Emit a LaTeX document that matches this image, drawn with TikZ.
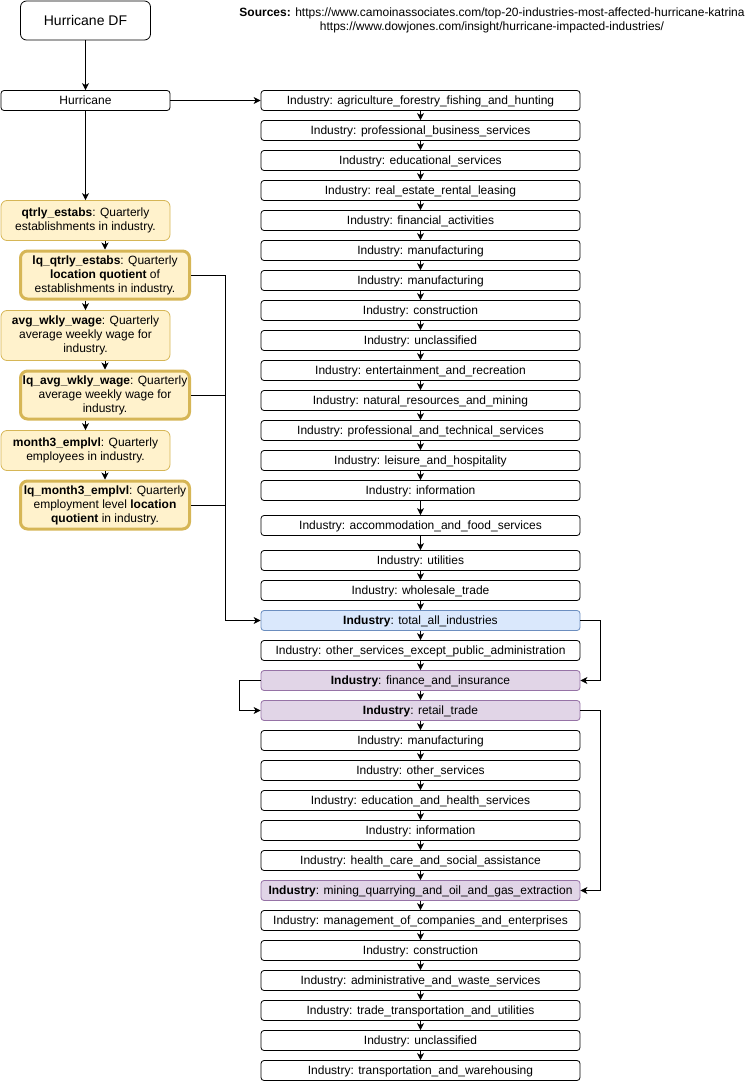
\documentclass[tikz,border=0pt]{standalone}
\usepackage{fontspec}
\setmainfont{Liberation Sans}
\usetikzlibrary{arrows.meta}
\definecolor{ylwfill}{HTML}{FFF2CC}
\definecolor{ylwline}{HTML}{D6B656}
\definecolor{bluefill}{HTML}{DAE8FC}
\definecolor{blueline}{HTML}{6C8EBF}
\definecolor{purpfill}{HTML}{E1D5E7}
\definecolor{purpline}{HTML}{9673A6}
\tikzset{
  every node/.style={font=\fontsize{12}{14}\selectfont, inner sep=0pt},
  arr/.style={-{Stealth[length=7pt,width=7pt,inset=2pt]}, line width=0.8pt},
  ind/.style={draw, rounded corners=3pt, minimum width=319pt, minimum height=20pt, line width=0.8pt,
              text height=8.6pt, text depth=0pt},
  indblue/.style={ind, fill=bluefill, draw=blueline},
  indpurp/.style={ind, fill=purpfill, draw=purpline},
  var/.style={draw=ylwline, fill=ylwfill, rounded corners=6pt, minimum width=169pt, align=center, line width=0.8pt},
  lqvar/.style={var, line width=3pt, rounded corners=7pt}
}
\begin{document}
\begin{tikzpicture}[x=1pt, y=-1pt]
            \useasboundingbox (0,0) rectangle (751,1081);
            % 数据来源
            \node[draw, rounded corners=6pt, minimum width=130pt, minimum height=39pt, line width=0.8pt,
                  font=\fontsize{14}{16}\selectfont, text height=10pt, text depth=0pt] (df) at (85.5,20.5) {Hurricane DF};
            \node[align=center] (src) at (492,20) {\textbf{Sources:} https://www.camoinassociates.com/top-20-industries-most-affected-hurricane-katrina\\https://www.dowjones.com/insight/hurricane-impacted-industries/};
            \node[draw, rounded corners=3pt, minimum width=169pt, minimum height=20pt, line width=0.8pt,
                  text height=8.6pt, text depth=0pt] (hur) at (85.5,100.5) {Hurricane};

            % 变量
            \node[var, minimum height=40pt] (q1) at (85.5,220.5) {\textbf{qtrly\_estabs}: Quarterly\\establishments in industry.};
            \node[lqvar, minimum height=48pt] (lq1) at (105,275) {\textbf{lq\_qtrly\_estabs}: Quarterly\\\textbf{location quotient} of\\establishments in industry.};
            \node[var, minimum height=50pt] (q2) at (85.5,335.5) {\textbf{avg\_wkly\_wage}: Quarterly\\average weekly wage for\\industry.};
            \node[lqvar, minimum height=48pt] (lq2) at (105,395) {\textbf{lq\_avg\_wkly\_wage}: Quarterly\\average weekly wage for\\industry.};
            \node[var, minimum height=40pt] (q3) at (85.5,450.5) {\textbf{month3\_emplvl}: Quarterly\\employees in industry.};
            \node[lqvar, minimum height=48pt] (lq3) at (105,505) {\textbf{lq\_month3\_emplvl}: Quarterly\\employment level \textbf{location}\\\textbf{quotient} in industry.};

            % 行业
            \node[ind] (ind1) at (420.5,100.5) {Industry: agriculture\_forestry\_fishing\_and\_hunting};
            \node[ind] (ind2) at (420.5,130.5) {Industry: professional\_business\_services};
            \node[ind] (ind3) at (420.5,160.5) {Industry: educational\_services};
            \node[ind] (ind4) at (420.5,190.5) {Industry: real\_estate\_rental\_leasing};
            \node[ind] (ind5) at (420.5,220.5) {Industry: financial\_activities};
            \node[ind] (ind6) at (420.5,250.5) {Industry: manufacturing};
            \node[ind] (ind7) at (420.5,280.5) {Industry: manufacturing};
            \node[ind] (ind8) at (420.5,310.5) {Industry: construction};
            \node[ind] (ind9) at (420.5,340.5) {Industry: unclassified};
            \node[ind] (ind10) at (420.5,370.5) {Industry: entertainment\_and\_recreation};
            \node[ind] (ind11) at (420.5,400.5) {Industry: natural\_resources\_and\_mining};
            \node[ind] (ind12) at (420.5,430.5) {Industry: professional\_and\_technical\_services};
            \node[ind] (ind13) at (420.5,460.5) {Industry: leisure\_and\_hospitality};
            \node[ind] (ind14) at (420.5,490.5) {Industry: information};
            \node[ind] (ind15) at (420.5,525.5) {Industry: accommodation\_and\_food\_services};
            \node[ind] (ind16) at (420.5,560.5) {Industry: utilities};
            \node[ind] (ind17) at (420.5,590.5) {Industry: wholesale\_trade};
            \node[indblue] (ind18) at (420.5,620.5) {\textbf{Industry}: total\_all\_industries};
            \node[ind] (ind19) at (420.5,650.5) {Industry: other\_services\_except\_public\_administration};
            \node[indpurp] (ind20) at (420.5,680.5) {\textbf{Industry}: finance\_and\_insurance};
            \node[indpurp] (ind21) at (420.5,710.5) {\textbf{Industry}: retail\_trade};
            \node[ind] (ind22) at (420.5,740.5) {Industry: manufacturing};
            \node[ind] (ind23) at (420.5,770.5) {Industry: other\_services};
            \node[ind] (ind24) at (420.5,800.5) {Industry: education\_and\_health\_services};
            \node[ind] (ind25) at (420.5,830.5) {Industry: information};
            \node[ind] (ind26) at (420.5,860.5) {Industry: health\_care\_and\_social\_assistance};
            \node[indpurp] (ind27) at (420.5,890.5) {\textbf{Industry}: mining\_quarrying\_and\_oil\_and\_gas\_extraction};
            \node[ind] (ind28) at (420.5,920.5) {Industry: management\_of\_companies\_and\_enterprises};
            \node[ind] (ind29) at (420.5,950.5) {Industry: construction};
            \node[ind] (ind30) at (420.5,980.5) {Industry: administrative\_and\_waste\_services};
            \node[ind] (ind31) at (420.5,1010.5) {Industry: trade\_transportation\_and\_utilities};
            \node[ind] (ind32) at (420.5,1040.5) {Industry: unclassified};
            \node[ind] (ind33) at (420.5,1070.5) {Industry: transportation\_and\_warehousing};

            % 连线
            \draw[arr] (df) -- (hur);
            \draw[arr] (hur) -- (ind1);
            \draw[arr] (hur) -- (q1);
            \draw[arr] (q1.south -| lq1) -- (lq1.north);
            \draw[arr] (lq1.south -| q2) -- (q2.north);
            \draw[arr] (q2.south -| lq2) -- (lq2.north);
            \draw[arr] (lq2.south -| q3) -- (q3.north);
            \draw[arr] (q3.south -| lq3) -- (lq3.north);
            \foreach \i [evaluate=\i as \j using int(\i+1)] in {1,...,32}
              \draw[arr] (ind\i) -- (ind\j);

            \coordinate (bus) at (225.5,620.5);
            \draw[line width=0.8pt] (lq1.east) -| (bus);
            \draw[line width=0.8pt] (lq2.east) -| (bus);
            \draw[line width=0.8pt] (lq3.east) -| (bus);
            \draw[arr] (bus) -- (ind18);
            \draw[arr] (ind18.east) -- ++(20,0) |- (ind20.east);
            \draw[arr] (ind20.west) -- ++(-21,0) |- (ind21.west);
            \draw[arr] (ind21.east) -- ++(20,0) |- (ind27.east);
        \end{tikzpicture}
\end{document}
